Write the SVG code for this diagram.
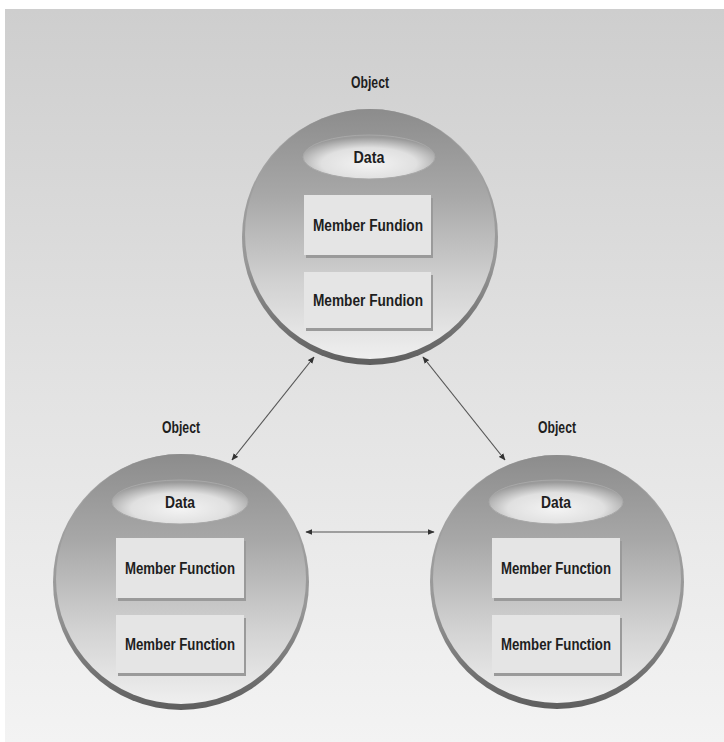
<svg xmlns="http://www.w3.org/2000/svg" width="724" height="742" viewBox="0 0 724 742">
<defs>
  <linearGradient id="bg" x1="0" y1="0" x2="0" y2="1">
    <stop offset="0" stop-color="#cecece"/>
    <stop offset="0.5" stop-color="#e2e2e2"/>
    <stop offset="1" stop-color="#f3f3f3"/>
  </linearGradient>
  <linearGradient id="sphere" x1="0" y1="0" x2="0" y2="1">
    <stop offset="0" stop-color="#8c8c8c"/>
    <stop offset="0.35" stop-color="#a8a8a8"/>
    <stop offset="0.7" stop-color="#d2d2d2"/>
    <stop offset="1" stop-color="#efefef"/>
  </linearGradient>
  <linearGradient id="rim" x1="0" y1="0" x2="0" y2="1">
    <stop offset="0" stop-color="#a8a8a8"/>
    <stop offset="0.6" stop-color="#979797"/>
    <stop offset="1" stop-color="#5e5e5e"/>
  </linearGradient>
  <radialGradient id="disc" cx="0.5" cy="0.65" r="0.6">
    <stop offset="0" stop-color="#f4f4f4"/>
    <stop offset="0.6" stop-color="#e0e0e0"/>
    <stop offset="1" stop-color="#9a9a9a"/>
  </radialGradient>
  <marker id="ah" viewBox="0 0 10 10" refX="9" refY="5" markerWidth="7" markerHeight="7" orient="auto-start-reverse" markerUnits="userSpaceOnUse">
    <path d="M0,1 L10,5 L0,9 z" fill="#333"/>
  </marker>
</defs>
<style>
  .lbl { font-family: "Liberation Sans", Arial, sans-serif; font-weight: bold; font-size: 16px; fill: #1e1e1e; text-anchor: middle; }
  .box { fill: #e5e5e5; }
  .boxsh { fill: #9a9a9a; }
  .rimc { fill: url(#rim); }
  .body { fill: url(#sphere); }
  .disc { fill: url(#disc); stroke: #a8a8a8; stroke-width: 1; }
  .conn { stroke: #555; stroke-width: 1.2; fill: none; marker-start: url(#ah); marker-end: url(#ah); }
</style>
<rect x="0" y="0" width="724" height="742" fill="#ffffff"/>
<rect x="5" y="9" width="719" height="733" fill="url(#bg)"/>

<g id="object-top">
  <text class="lbl" x="370" y="88" textLength="38" lengthAdjust="spacingAndGlyphs">Object</text>
  <circle class="rimc" cx="370" cy="237" r="128"/>
  <circle class="body" cx="370" cy="234" r="125"/>
  <ellipse class="disc" cx="369" cy="157" rx="66" ry="22"/>
  <text class="lbl" x="369" y="163" textLength="31" lengthAdjust="spacingAndGlyphs">Data</text>
  <rect class="boxsh" x="306" y="198" width="127" height="60"/>
  <rect class="box" x="304" y="195" width="127" height="60"/>
  <text class="lbl" x="368" y="231" textLength="110" lengthAdjust="spacingAndGlyphs">Member Fundion</text>
  <rect class="boxsh" x="306" y="275" width="127" height="56"/>
  <rect class="box" x="304" y="272" width="127" height="56"/>
  <text class="lbl" x="368" y="306" textLength="110" lengthAdjust="spacingAndGlyphs">Member Fundion</text>
</g>

<g id="object-left">
  <text class="lbl" x="181" y="433" textLength="38" lengthAdjust="spacingAndGlyphs">Object</text>
  <circle class="rimc" cx="181" cy="582" r="128"/>
  <circle class="body" cx="181" cy="579" r="125"/>
  <ellipse class="disc" cx="180" cy="502" rx="68" ry="22"/>
  <text class="lbl" x="180" y="508" textLength="30" lengthAdjust="spacingAndGlyphs">Data</text>
  <rect class="boxsh" x="118" y="541" width="128" height="60"/>
  <rect class="box" x="116" y="538" width="128" height="60"/>
  <text class="lbl" x="180" y="574" textLength="110" lengthAdjust="spacingAndGlyphs">Member Function</text>
  <rect class="boxsh" x="118" y="618" width="128" height="58"/>
  <rect class="box" x="116" y="615" width="128" height="58"/>
  <text class="lbl" x="180" y="650" textLength="110" lengthAdjust="spacingAndGlyphs">Member Function</text>
</g>

<g id="object-right">
  <text class="lbl" x="557" y="433" textLength="38" lengthAdjust="spacingAndGlyphs">Object</text>
  <circle class="rimc" cx="557" cy="582" r="127"/>
  <circle class="body" cx="557" cy="579" r="124"/>
  <ellipse class="disc" cx="556" cy="502" rx="67" ry="22"/>
  <text class="lbl" x="556" y="508" textLength="30" lengthAdjust="spacingAndGlyphs">Data</text>
  <rect class="boxsh" x="494" y="541" width="128" height="60"/>
  <rect class="box" x="492" y="538" width="128" height="60"/>
  <text class="lbl" x="556" y="574" textLength="110" lengthAdjust="spacingAndGlyphs">Member Function</text>
  <rect class="boxsh" x="494" y="618" width="128" height="58"/>
  <rect class="box" x="492" y="615" width="128" height="58"/>
  <text class="lbl" x="556" y="650" textLength="110" lengthAdjust="spacingAndGlyphs">Member Function</text>
</g>

<g id="connectors">
  <line class="conn" x1="314" y1="357" x2="232" y2="460"/>
  <line class="conn" x1="423" y1="357" x2="505" y2="460"/>
  <line class="conn" x1="306" y1="532" x2="434" y2="532"/>
</g>
</svg>
